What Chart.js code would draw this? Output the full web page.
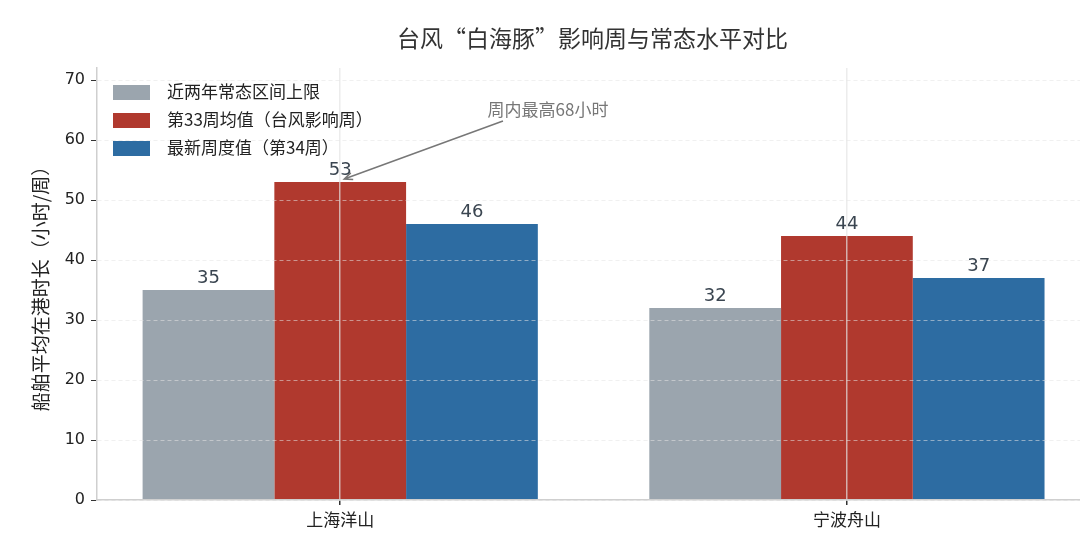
<!DOCTYPE html>
<html>
<head>
<meta charset="utf-8">
<script src="https://cdn.jsdelivr.net/npm/chart.js@4.4.1/dist/chart.umd.min.js"></script>
<style>
  html, body { margin: 0; padding: 0; background: #fff; overflow: hidden; }
  #wrap { width: 1080px; height: 549px; position: relative; }
</style>
</head>
<body>
<div id="wrap"><canvas id="c"></canvas></div>
<script>
// data
const PORTS = ['上海洋山', '宁波舟山'];
const SERIES_NAMES = ['近两年常态区间上限', '第33周均值（台风影响周）', '最新周度值（第34周）'];
const NORMAL_UPPER = [35, 32];
const WEEK33_AVG = [53, 44];
const WEEK34_VAL = [46, 37];
const Y_TICKS = [0, 10, 20, 30, 40, 50, 60, 70];
const NOTE_TEXT = '周内最高68小时';
const NOTE_POS = { x: 0.41, y: 65 };   // category units / hours

const COLORS = ['#9ba5ae', '#b0392e', '#2d6ca2'];
const FONT = "'DejaVu Sans', 'Noto Sans CJK SC', sans-serif";
const CJK = "'Noto Sans CJK SC', 'DejaVu Sans', sans-serif";

Chart.defaults.font.family = FONT;
Chart.defaults.color = '#333';

const toPoints = arr => arr.map((v, i) => ({ x: i, y: v }));

// ── Title, legend, value labels, annotation ─────────
const decor = {
  id: 'decor',
  afterDraw(chart) {
    const { ctx, chartArea: a, scales: { x, y } } = chart;
    ctx.save();
    ctx.setLineDash([]);

    // title
    ctx.fillStyle = '#333';
    ctx.font = `23px ${CJK}`;
    ctx.textAlign = 'center';
    ctx.textBaseline = 'middle';
    ctx.fillText('台风“白海豚”影响周与常态水平对比', (a.left + a.right) / 2 + 4, 38);

    // value labels
    ctx.font = `18px ${FONT}`;
    ctx.fillStyle = '#3a4550';
    ctx.textBaseline = 'bottom';
    chart.data.datasets.forEach((ds, i) => {
      chart.getDatasetMeta(i).data.forEach((bar, j) => {
        ctx.fillText(String(ds.data[j].y), bar.x, bar.y - 3);
      });
    });

    // legend
    ctx.textAlign = 'left';
    ctx.textBaseline = 'middle';
    ctx.font = `17px ${CJK}`;
    chart.data.datasets.forEach((ds, i) => {
      const cy = a.top + 24 + i * 28;
      ctx.fillStyle = ds.backgroundColor;
      ctx.fillRect(a.left + 16, cy - 7, 37, 15);
      ctx.fillStyle = '#222';
      ctx.fillText(ds.label, a.left + 70, cy);
    });

    // annotation
    const x0 = x.getPixelForValue(0), x1 = x.getPixelForValue(1);
    const tx = x0 + NOTE_POS.x * (x1 - x0);
    const ty = y.getPixelForValue(NOTE_POS.y);
    ctx.font = `17px ${CJK}`;
    ctx.fillStyle = '#777';
    ctx.textAlign = 'center';
    ctx.fillText(NOTE_TEXT, tx, ty);

    const tip = chart.getDatasetMeta(1).data[0];
    const sx = tx - 45, sy = ty + 11;
    const ex = tip.x + 4, ey = tip.y - 3;
    ctx.strokeStyle = '#777';
    ctx.lineWidth = 1.5;
    ctx.beginPath();
    ctx.moveTo(sx, sy);
    ctx.lineTo(ex, ey);
    const ang = Math.atan2(ey - sy, ex - sx);
    const h = 9;
    ctx.moveTo(ex - h * Math.cos(ang - 0.4), ey - h * Math.sin(ang - 0.4));
    ctx.lineTo(ex, ey);
    ctx.lineTo(ex - h * Math.cos(ang + 0.4), ey - h * Math.sin(ang + 0.4));
    ctx.stroke();

    ctx.restore();
  }
};

new Chart(document.getElementById('c').getContext('2d'), {
  type: 'bar',
  data: {
    datasets: [
      { label: SERIES_NAMES[0], data: toPoints(NORMAL_UPPER), backgroundColor: COLORS[0] },
      { label: SERIES_NAMES[1], data: toPoints(WEEK33_AVG), backgroundColor: COLORS[1] },
      { label: SERIES_NAMES[2], data: toPoints(WEEK34_VAL), backgroundColor: COLORS[2] },
    ],
  },
  options: {
    responsive: true,
    maintainAspectRatio: false,
    animation: false,
    layout: { padding: { top: 68, right: 0, bottom: 0, left: 0 } },
    datasets: { bar: { categoryPercentage: 0.78, barPercentage: 1.0 } },
    plugins: {
      legend: { display: false },
      title: { display: false },
      tooltip: { enabled: false },
    },
    scales: {
      x: {
        type: 'linear',
        min: -0.48,
        max: 1.46,
        offset: false,
        afterBuildTicks: s => { s.ticks = PORTS.map((_, i) => ({ value: i })); },
        grid: {
          z: 1,
          offset: false,
          color: 'rgba(228,228,228,0.7)',
          lineWidth: 1.5,
          tickColor: '#333',
          tickLength: 5,
        },
        border: { z: 2, color: '#cfcfcf', width: 1.5 },
        ticks: {
          font: { size: 17, family: CJK },
          color: '#222',
          padding: 4,
          callback: v => PORTS[v],
        },
        afterFit: s => { s.height = 49; },
      },
      y: {
        min: 0,
        max: 72,
        afterBuildTicks: s => { s.ticks = Y_TICKS.map(v => ({ value: v })); },
        grid: {
          z: 1,
          color: 'rgba(228,228,228,0.55)',
          lineWidth: 1,
          tickColor: '#333',
          tickLength: 6,
          tickBorderDash: [],
        },
        border: { z: 2, color: '#cfcfcf', width: 1.5, dash: [4, 3] },
        ticks: { font: { size: 16 }, color: '#222', padding: 6 },
        title: {
          display: true,
          text: '船舶平均在港时长（小时/周）',
          font: { size: 19, family: CJK },
          color: '#222',
          padding: { top: 29, bottom: 0 },
        },
        afterFit: s => { s.width = 97; },
      },
    },
  },
  plugins: [decor],
});
</script>
</body>
</html>
